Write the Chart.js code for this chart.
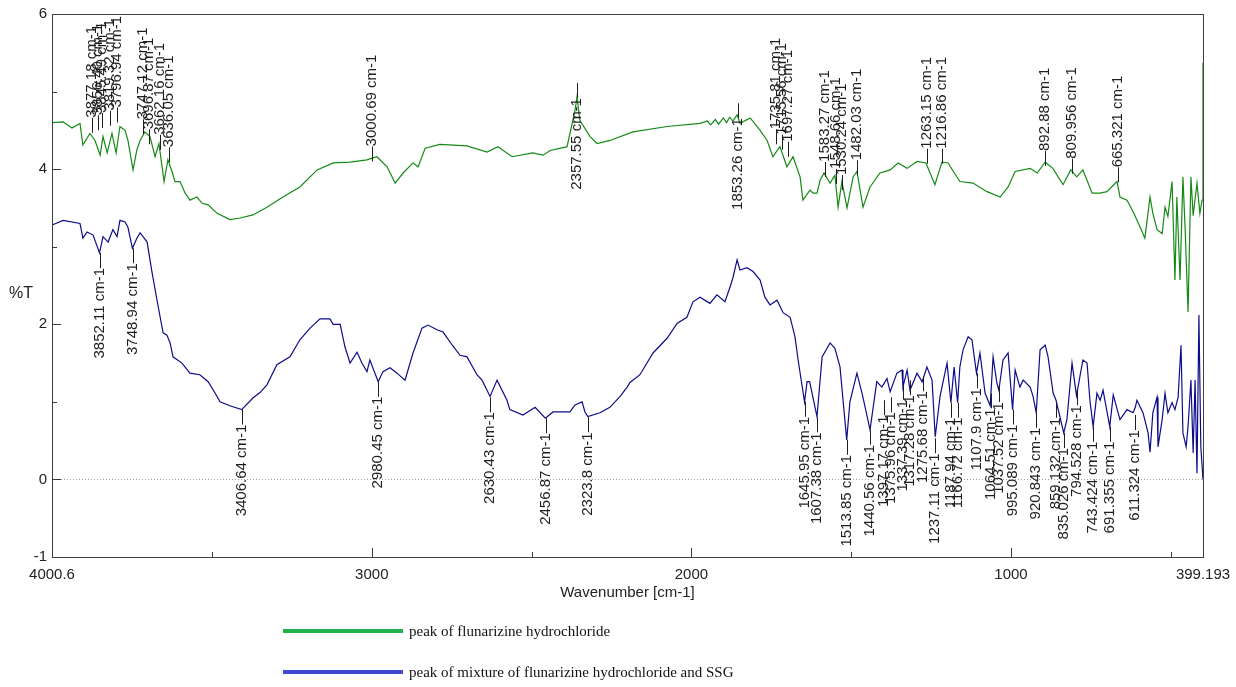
<!DOCTYPE html>
<html><head><meta charset="utf-8">
<script src="https://cdn.jsdelivr.net/npm/chart.js@4.4.1/dist/chart.umd.min.js"></script>
<style>html,body{margin:0;padding:0;background:#fff}canvas{display:block}</style>
</head><body>
<canvas id="c" width="1236" height="687"></canvas>
<script>
// ---- data (wavenumber cm-1, %T) ----
const flunarizineSpectrum = [[4000,4.60],[3966,4.61],[3938,4.53],[3913,4.59],[3904,4.31],[3882,4.46],[3866,4.37],[3850,4.18],[3841,4.42],[3828,4.21],[3813,4.46],[3800,4.21],[3788,4.55],[3772,4.50],[3763,4.37],[3747,3.99],[3735,4.25],[3725,4.37],[3710,4.48],[3694,4.42],[3678,4.16],[3666,4.33],[3650,3.84],[3638,4.12],[3625,3.97],[3616,3.84],[3600,3.84],[3584,3.69],[3569,3.60],[3547,3.64],[3531,3.56],[3512,3.54],[3484,3.43],[3444,3.35],[3412,3.37],[3372,3.41],[3328,3.51],[3278,3.64],[3225,3.77],[3171,3.99],[3121,4.08],[3068,4.09],[3015,4.12],[2984,4.16],[2952,4.03],[2927,3.82],[2902,3.95],[2871,4.08],[2855,4.03],[2833,4.27],[2787,4.32],[2702,4.30],[2639,4.22],[2605,4.29],[2561,4.16],[2496,4.21],[2464,4.18],[2442,4.24],[2389,4.29],[2373,4.59],[2364,4.76],[2358,4.93],[2349,4.63],[2317,4.42],[2295,4.33],[2255,4.37],[2183,4.48],[2076,4.55],[1973,4.59],[1950,4.62],[1940,4.57],[1925,4.64],[1915,4.58],[1900,4.66],[1890,4.60],[1880,4.67],[1870,4.62],[1857,4.70],[1848,4.59],[1816,4.66],[1785,4.50],[1763,4.37],[1745,4.16],[1723,4.29],[1701,4.03],[1682,4.16],[1660,3.90],[1651,3.60],[1629,3.73],[1619,3.69],[1607,3.69],[1597,3.86],[1585,3.95],[1566,3.82],[1551,3.92],[1541,3.51],[1529,3.84],[1513,3.50],[1494,3.90],[1482,3.97],[1463,3.51],[1441,3.77],[1410,3.95],[1378,3.99],[1353,4.08],[1325,4.01],[1294,4.10],[1266,4.08],[1238,3.80],[1216,4.09],[1197,4.08],[1160,3.84],[1119,3.82],[1075,3.71],[1034,3.64],[1009,3.77],[987,3.97],[940,4.01],[918,3.95],[893,4.09],[869,4.01],[837,3.80],[813,3.99],[794,3.90],[775,3.99],[746,3.69],[721,3.69],[700,3.71],[668,3.84],[659,3.64],[637,3.60],[618,3.45],[602,3.31],[581,3.11],[565,3.64],[556,3.43],[543,3.22],[527,3.17],[518,3.51],[509,3.39],[496,3.84],[487,2.57],[481,3.64],[471,2.57],[462,3.90],[455,3.22],[446,2.16],[437,3.90],[430,3.40],[418,3.82],[409,3.43],[402,3.60],[399.2,5.37]];

const mixtureSpectrum = [[4000,3.28],[3966,3.34],[3913,3.30],[3904,3.11],[3891,3.19],[3872,3.15],[3852,2.92],[3841,3.13],[3825,3.06],[3810,3.22],[3797,3.13],[3788,3.34],[3772,3.32],[3763,3.25],[3749,2.98],[3735,3.11],[3725,3.18],[3703,3.06],[3688,2.68],[3672,2.31],[3653,1.89],[3641,1.86],[3631,1.76],[3622,1.58],[3594,1.50],[3569,1.37],[3538,1.35],[3512,1.26],[3484,1.07],[3475,1.00],[3444,0.95],[3407,0.90],[3372,1.05],[3350,1.12],[3328,1.22],[3297,1.48],[3256,1.58],[3225,1.80],[3193,1.95],[3162,2.07],[3131,2.07],[3121,2.00],[3099,2.00],[3084,1.71],[3068,1.50],[3046,1.64],[3031,1.50],[3015,1.39],[3006,1.54],[2980,1.26],[2965,1.39],[2943,1.44],[2921,1.37],[2902,1.30],[2896,1.28],[2871,1.63],[2843,1.95],[2824,1.99],[2796,1.93],[2777,1.90],[2748,1.73],[2724,1.60],[2702,1.58],[2671,1.35],[2655,1.28],[2630,1.07],[2608,1.28],[2577,1.02],[2568,0.90],[2527,0.83],[2489,0.93],[2457,0.79],[2433,0.87],[2380,0.87],[2364,0.96],[2342,1.00],[2333,0.87],[2324,0.81],[2286,0.86],[2255,0.93],[2223,1.07],[2201,1.19],[2192,1.25],[2161,1.35],[2120,1.63],[2076,1.82],[2045,2.01],[2014,2.09],[1995,2.29],[1973,2.35],[1942,2.27],[1920,2.38],[1895,2.29],[1879,2.48],[1870,2.60],[1857,2.83],[1848,2.70],[1826,2.73],[1807,2.68],[1785,2.57],[1770,2.35],[1754,2.25],[1732,2.31],[1713,2.15],[1691,2.09],[1676,1.84],[1666,1.54],[1646,1.00],[1638,1.26],[1630,1.26],[1607,0.81],[1591,1.58],[1566,1.76],[1551,1.69],[1535,1.45],[1514,0.51],[1504,1.00],[1482,1.37],[1466,1.11],[1460,1.00],[1441,0.64],[1420,1.26],[1404,1.19],[1388,1.30],[1378,1.13],[1357,1.37],[1341,1.41],[1338,1.19],[1325,1.41],[1316,1.15],[1294,1.37],[1278,1.26],[1263,1.45],[1247,1.28],[1237,0.55],[1222,1.07],[1216,1.19],[1200,1.50],[1188,0.99],[1178,1.45],[1167,0.99],[1160,1.45],[1150,1.67],[1134,1.84],[1122,1.80],[1108,1.37],[1097,1.63],[1081,1.11],[1065,0.95],[1056,1.58],[1044,1.24],[1038,1.15],[1025,1.54],[1009,1.63],[995,0.90],[987,1.41],[972,1.19],[962,1.28],[940,1.19],[931,1.07],[921,0.86],[909,1.67],[893,1.73],[884,1.58],[868,1.11],[859,1.02],[835,0.60],[825,0.77],[809,1.50],[795,1.08],[775,1.54],[762,1.50],[753,1.02],[743,0.68],[731,1.11],[721,1.02],[712,1.15],[691,0.68],[680,1.09],[659,0.77],[637,0.90],[618,0.86],[611,0.93],[606,1.02],[587,0.86],[571,0.60],[565,0.35],[556,0.86],[543,1.06],[540,0.42],[527,0.77],[518,1.11],[509,0.86],[496,0.99],[487,0.90],[477,1.06],[468,1.73],[462,0.60],[452,0.42],[446,0.68],[437,1.28],[430,0.34],[424,1.28],[418,0.08],[412,2.12],[406,0.42],[399.2,0.0]];

// peak annotations: [text, wavenumber, %T at marker, direction]
const flunarizinePeakLabels = [
  ["3877.18 cm-1",3877.18,4.47,"up"],["3856.40 cm-1",3856.40,4.50,"up"],["3845.49 cm-1",3845.49,4.53,"up"],
  ["3819.32 cm-1",3819.32,4.56,"up"],["3796.94 cm-1",3796.94,4.60,"up"],
  ["3747.12 cm-1",3715,4.45,"up"],["3696.87 cm-1",3696.87,4.32,"up"],["3662.16 cm-1",3662.16,4.25,"up"],["3636.05 cm-1",3636.05,4.09,"up"],
  ["3000.69 cm-1",3000.69,4.10,"up"],["2357.55 cm-1",2357.55,5.11,"down"],["1853.26 cm-1",1853.26,4.85,"down"],
  ["1735.81 cm-1",1735.81,4.32,"up"],["1715.56 cm-1",1715.56,4.25,"up"],["1697.27 cm-1",1697.27,4.16,"up"],
  ["1583.27 cm-1",1583.27,3.90,"up"],["1548.66 cm-1",1548.66,3.81,"up"],["1530.24 cm-1",1530.24,3.73,"up"],
  ["1482.03 cm-1",1482.03,3.92,"up"],["1263.15 cm-1",1263.15,4.07,"up"],["1216.86 cm-1",1216.86,4.07,"up"],
  ["892.88 cm-1",892.88,4.04,"up"],["809.956 cm-1",809.956,3.94,"up"],["665.321 cm-1",665.321,3.83,"up"]
];
const mixturePeakLabels = [
  ["3852.11 cm-1",3852.11,2.92],["3748.94 cm-1",3748.94,2.98],["3406.64 cm-1",3406.64,0.90],["2980.45 cm-1",2980.45,1.26],
  ["2630.43 cm-1",2630.43,1.06],["2456.87 cm-1",2456.87,0.79],["2323.8 cm-1",2323.8,0.80],["1645.95 cm-1",1645.95,1.00],
  ["1607.38 cm-1",1607.38,0.80],["1513.85 cm-1",1513.85,0.51],["1440.56 cm-1",1440.56,0.64],["1397.17 cm-1",1397.17,1.02],
  ["1375.96 cm-1",1375.96,1.06],["1337.39 cm-1",1337.39,1.22],["1317.28 cm-1",1317.28,1.28],["1275.68 cm-1",1275.68,1.33],
  ["1237.11 cm-1",1237.11,0.53],["1187.94 cm-1",1187.94,0.99],["1166.72 cm-1",1166.72,0.99],["1107.9 cm-1",1107.9,1.37],
  ["1064.51 cm-1",1064.51,1.11],["1037.52 cm-1",1037.52,1.19],["995.089 cm-1",995.089,0.90],["920.843 cm-1",920.843,0.86],
  ["859.132 cm-1",859.132,0.99],["835.026 cm-1",835.026,0.60],["794.528 cm-1",794.528,1.15],["743.424 cm-1",743.424,0.68],
  ["691.355 cm-1",691.355,0.68],["611.324 cm-1",611.324,0.83]
];

const xTickValues = [4000.6,3500,3000,2500,2000,1500,1000,500,399.193];
const xTickLabels = {"4000.6":"4000.6","3000":"3000","2000":"2000","1000":"1000","399.193":"399.193"};
const yTickValues = [-1,0,1,2,3,4,5,6];
const yTickLabels = {"-1":"-1","0":"0","2":"2","4":"4","6":"6"};
const seriesNames = ["peak of flunarizine hydrochloride","peak of mixture of flunarizine hydrochloride and SSG"];
const xTitle = "Wavenumber [cm-1]";
const yTitle = "%T";

// ---- styles ----
const SANS = '"Liberation Sans", Arial, sans-serif';
const SERIF = '"Liberation Serif", "Times New Roman", serif';
const lineColors = ['#148a14','#0c0c8a'];
const legendColors = ['#22b14c','#3f48cc'];

const overlay = {
  id: 'overlay',
  afterDatasetsDraw(chart) {
    const {ctx, chartArea: a, scales: {x, y}} = chart;
    ctx.save();
    ctx.strokeStyle = '#3a3a3a'; ctx.lineWidth = 1;
    const seg = (x1,y1,x2,y2)=>{ctx.beginPath();ctx.moveTo(x1,y1);ctx.lineTo(x2,y2);ctx.stroke();};
    xTickValues.forEach(v=>{
      if (v===xTickValues[0] || v===xTickValues[xTickValues.length-1]) return;
      const px = Math.round(x.getPixelForValue(v))+0.5;
      const len = xTickLabels[String(v)] ? 9 : 5;
      seg(px, a.bottom, px, a.bottom-len);
    });
    yTickValues.forEach(v=>{
      if (v===-1 || v===6) return;
      const py = Math.round(y.getPixelForValue(v))+0.5;
      const len = yTickLabels[String(v)] ? 9 : 5;
      seg(a.left, py, a.left+len, py);
    });
    ctx.strokeStyle = '#404040';
    ctx.strokeRect(Math.round(a.left)+0.5, Math.round(a.top)+0.5, Math.round(a.right-a.left), Math.round(a.bottom-a.top));

    // peak labels
    ctx.font = '15px ' + SANS;
    ctx.fillStyle = '#1e1e1e';
    ctx.textBaseline = 'middle';
    const drawLabel = (text, wn, t, dir) => {
      const px = x.getPixelForValue(wn), py = y.getPixelForValue(t);
      ctx.save();
      ctx.translate(px, py);
      ctx.rotate(-Math.PI/2);
      if (dir === 'up') { ctx.textAlign='left'; ctx.fillText('\u2014' + text, 0, 0); }
      else { ctx.textAlign='right'; ctx.fillText(text + '\u2014', 0, 0); }
      ctx.restore();
    };
    flunarizinePeakLabels.forEach(l=>drawLabel(l[0],l[1],l[2],l[3]));
    mixturePeakLabels.forEach(l=>drawLabel(l[0],l[1],l[2],'down'));

    // y title (horizontal)
    ctx.font = '16px ' + SANS;
    ctx.textAlign = 'left';
    ctx.fillStyle = '#222';
    ctx.fillText(yTitle, 9, 294);

    // legend
    const legY = [631, 672];
    seriesNames.forEach((name,i)=>{
      ctx.strokeStyle = legendColors[i]; ctx.lineWidth = 4;
      seg(283, legY[i], 403, legY[i]);
      ctx.font = '15px ' + SERIF;
      ctx.fillStyle = '#111';
      ctx.textAlign = 'left';
      ctx.fillText(name, 409, legY[i]+1);
    });
    ctx.restore();
  }
};

const toXY = arr => arr.map(p=>({x:p[0], y:p[1]}));

new Chart(document.getElementById('c'), {
  type: 'line',
  data: {
    datasets: [
      {label: seriesNames[0], data: toXY(flunarizineSpectrum), borderColor: lineColors[0], borderWidth: 1.2, pointRadius: 0, tension: 0, fill: false},
      {label: seriesNames[1], data: toXY(mixtureSpectrum), borderColor: lineColors[1], borderWidth: 1.2, pointRadius: 0, tension: 0, fill: false}
    ]
  },
  options: {
    responsive: false,
    animation: false,
    events: [],
    layout: {padding: {left: 0, top: 14, right: 33, bottom: 0}},
    plugins: {legend: {display: false}, tooltip: {enabled: false}},
    scales: {
      x: {
        type: 'linear', reverse: true, min: 399.193, max: 4000.6,
        afterBuildTicks: s => { s.ticks = xTickValues.map(v=>({value:v})); },
        afterFit: s => { s.height = 130; s.paddingLeft = 0; s.paddingRight = 0; },
        grid: {display: false, drawTicks: false},
        border: {display: false},
        ticks: {autoSkip: false, maxRotation: 0, minRotation: 0, padding: 9, color: '#222',
          font: {family: SANS, size: 15},
          callback: v => xTickLabels[String(v)] || ''},
        title: {display: true, text: xTitle, color: '#222', font: {family: SANS, size: 15},
          padding: {top: 0, bottom: 85}}
      },
      y: {
        min: -1, max: 6,
        afterBuildTicks: s => { s.ticks = yTickValues.map(v=>({value:v})); },
        afterFit: s => { s.width = 52; s.paddingTop = 0; s.paddingBottom = 0; },
        grid: {drawTicks: false, lineWidth: 1, color: c => (c.tick && c.tick.value === 0) ? '#a0a0a0' : 'rgba(0,0,0,0)'},
        border: {display: false, dash: [1,2]},
        ticks: {padding: 5, color: '#222', font: {family: SANS, size: 15},
          callback: v => yTickLabels[String(v)] || ''}
      }
    }
  },
  plugins: [overlay]
});
</script>
</body></html>
